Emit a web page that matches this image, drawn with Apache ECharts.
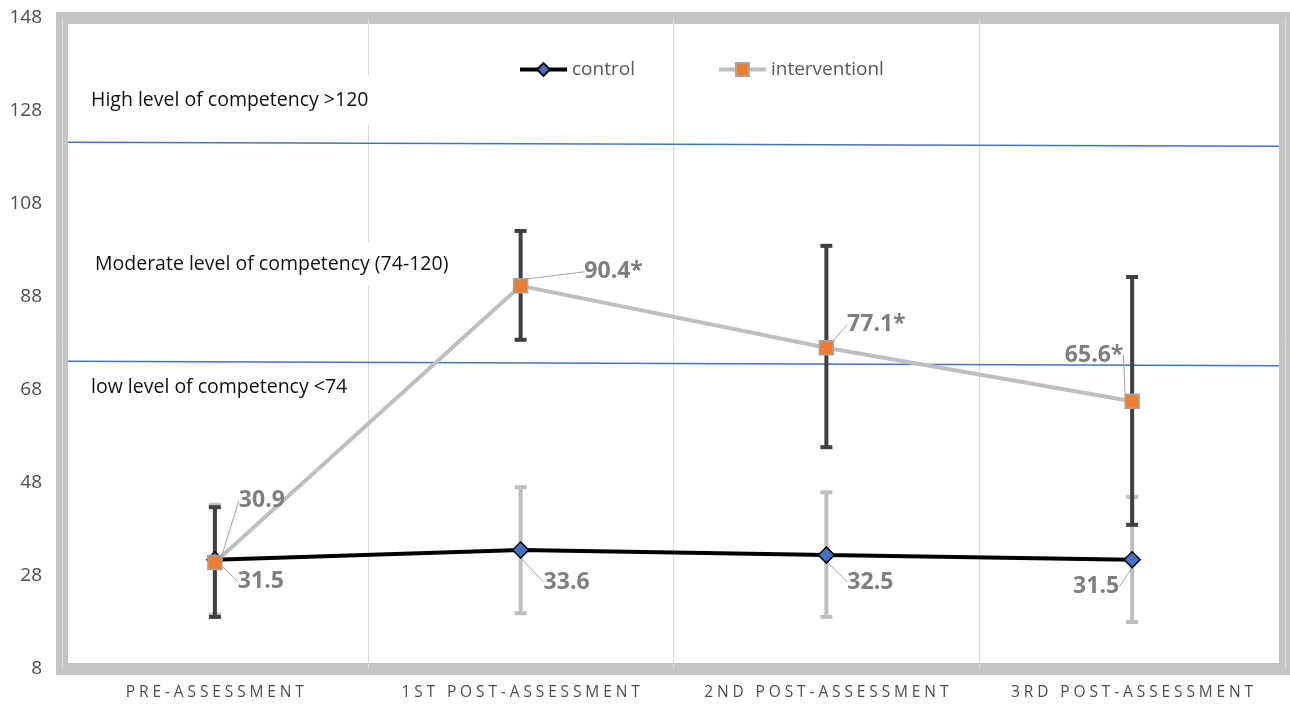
<!DOCTYPE html>
<html>
<head>
<meta charset="utf-8">
<script src="https://cdn.jsdelivr.net/npm/echarts@6/dist/echarts.min.js"></script>
<style>
html,body{margin:0;padding:0;background:#fff;}
#chart{width:1290px;height:705px;}
</style>
</head>
<body>
<div id="chart"></div>
<script>
// ---- data ----
const categories = ['PRE-ASSESSMENT', '1ST POST-ASSESSMENT', '2ND POST-ASSESSMENT', '3RD POST-ASSESSMENT'];
const controlValues = [31.5, 33.6, 32.5, 31.5];
const interventionValues = [30.9, 90.4, 77.1, 65.6];
const controlLabels = ['31.5', '33.6', '32.5', '31.5'];
const interventionLabels = ['30.9', '90.4*', '77.1*', '65.6*'];
const controlErrLow = [19.7, 20.0, 19.2, 18.1];
const controlErrHigh = [43.3, 47.1, 46.0, 45.0];
const interventionErrLow = [19.2, 78.8, 55.7, 39.0];
const interventionErrHigh = [42.8, 102.2, 99.0, 92.3];
const highThresholdLine = [[0, 121.3], [1, 120.4]];
const lowThresholdLine = [[0, 74.2], [1, 73.2]];
const yTicks = {min: 8, max: 148, interval: 20};
const bandTexts = ['High level of competency >120', 'Moderate level of competency (74-120)', 'low level of competency <74'];

const FONT = '"Open Sans", "Noto Sans", sans-serif';

function errData(lo, hi) {
  return lo.map((v, i) => [i, v, hi[i]]);
}
function errRender(color) {
  return function (params, api) {
    const i = api.value(0);
    const pLo = api.coord([i, api.value(1)]);
    const pHi = api.coord([i, api.value(2)]);
    return {
      type: 'group',
      children: [
        {type: 'line', shape: {x1: pLo[0], y1: pLo[1], x2: pHi[0], y2: pHi[1]}, style: {stroke: color, lineWidth: 4}},
        {type: 'rect', shape: {x: pHi[0] - 6, y: pHi[1] - 2, width: 12, height: 4}, style: {fill: color}},
        {type: 'rect', shape: {x: pLo[0] - 6, y: pLo[1] - 2, width: 12, height: 4}, style: {fill: color}}
      ]
    };
  };
}

const controlLabelOffsets = [[46, 22], [46, 32], [44, 27], [-36, 27]];
const interventionLabelOffsets = [[47, -62], [93, -14], [50, -23], [-38, -46]];

const chart = echarts.init(document.getElementById('chart'), null, {renderer: 'canvas'});
const option = {
  backgroundColor: '#ffffff',
  animation: false,
  textStyle: {fontFamily: FONT},
  grid: {
    left: 62, right: 5, top: 18, bottom: 36,
    show: true, borderColor: '#C4C4C4', borderWidth: 12, backgroundColor: 'transparent'
  },
  legend: {
    data: ['control', 'interventionl'],
    left: 513, top: 55,
    itemWidth: 47, itemHeight: 16, itemGap: 82,
    lineStyle: {width: 4},
    textStyle: {fontSize: 19, color: '#595959', fontFamily: FONT}
  },
  xAxis: [{
    type: 'category',
    data: categories,
    boundaryGap: true,
    axisLine: {show: false},
    axisTick: {show: false},
    splitLine: {show: true, interval: 0, lineStyle: {color: '#D9D9D9', width: 1}},
    axisLabel: {
      interval: 0, margin: 16, fontSize: 15.5, color: '#4d4d4d', fontFamily: FONT,
      formatter: v => v.split('').join('\u2005')
    }
  }, {
    type: 'value', min: -0.005, max: 1.005, show: false
  }],
  yAxis: {
    type: 'value',
    min: yTicks.min, max: yTicks.max, interval: yTicks.interval,
    axisLine: {show: false},
    axisTick: {show: false},
    splitLine: {show: false},
    axisLabel: {margin: 20, fontSize: 19, color: '#4d4d4d', fontFamily: FONT}
  },
  graphic: [
    {type: 'text', left: 83, top: 75, z: 1,
     style: {text: bandTexts[0], fontSize: 19.5, fill: '#111', fontFamily: FONT,
       backgroundColor: '#fff', padding: [15, 8]}},
    {type: 'text', left: 87, top: 242, z: 1,
     style: {text: bandTexts[1], fontSize: 19.5, fill: '#111', fontFamily: FONT,
       backgroundColor: '#fff', padding: [12, 8]}},
    {type: 'text', left: 91, top: 377, z: 1,
     style: {text: bandTexts[2], fontSize: 19.5, fill: '#111', fontFamily: FONT}}
  ],
  series: [
    {
      name: 'highLine', type: 'line', xAxisIndex: 1, data: highThresholdLine,
      symbol: 'none', silent: true, z: 1,
      lineStyle: {color: '#4472C4', width: 1.5}
    },
    {
      name: 'lowLine', type: 'line', xAxisIndex: 1, data: lowThresholdLine,
      symbol: 'none', silent: true, z: 1,
      lineStyle: {color: '#4472C4', width: 1.5}
    },
    {
      name: 'controlErr', type: 'custom', z: 2, silent: true,
      data: errData(controlErrLow, controlErrHigh),
      encode: {x: 0, y: [1, 2]},
      renderItem: errRender('#BFBFBF')
    },
    {
      name: 'interventionErr', type: 'custom', z: 3, silent: true,
      data: errData(interventionErrLow, interventionErrHigh),
      encode: {x: 0, y: [1, 2]},
      renderItem: errRender('#404040')
    },
    {
      name: 'control', type: 'line', z: 4,
      data: controlValues,
      symbol: 'diamond', symbolSize: 16,
      lineStyle: {color: '#000000', width: 4},
      itemStyle: {color: '#4472C4', borderColor: '#000000', borderWidth: 1.5},
      label: {
        show: true, position: 'inside',
        formatter: p => controlLabels[p.dataIndex],
        fontSize: 23, fontWeight: 'bold', color: '#7F7F7F', fontFamily: FONT
      },
      labelLine: {show: true, lineStyle: {color: '#A6A6A6', width: 1}},
      labelLayout: p => ({dx: controlLabelOffsets[p.dataIndex][0], dy: controlLabelOffsets[p.dataIndex][1]})
    },
    {
      name: 'interventionl', type: 'line', z: 5,
      data: interventionValues,
      symbol: 'rect', symbolSize: 14,
      lineStyle: {color: '#BFBFBF', width: 4},
      itemStyle: {color: '#ED7D31', borderColor: '#A5A5A5', borderWidth: 1.5},
      label: {
        show: true, position: 'inside',
        formatter: p => interventionLabels[p.dataIndex],
        fontSize: 23, fontWeight: 'bold', color: '#7F7F7F', fontFamily: FONT
      },
      labelLine: {show: true, lineStyle: {color: '#A6A6A6', width: 1}},
      labelLayout: p => ({dx: interventionLabelOffsets[p.dataIndex][0], dy: interventionLabelOffsets[p.dataIndex][1]})
    }
  ]
};
chart.setOption(option);
</script>
</body>
</html>
